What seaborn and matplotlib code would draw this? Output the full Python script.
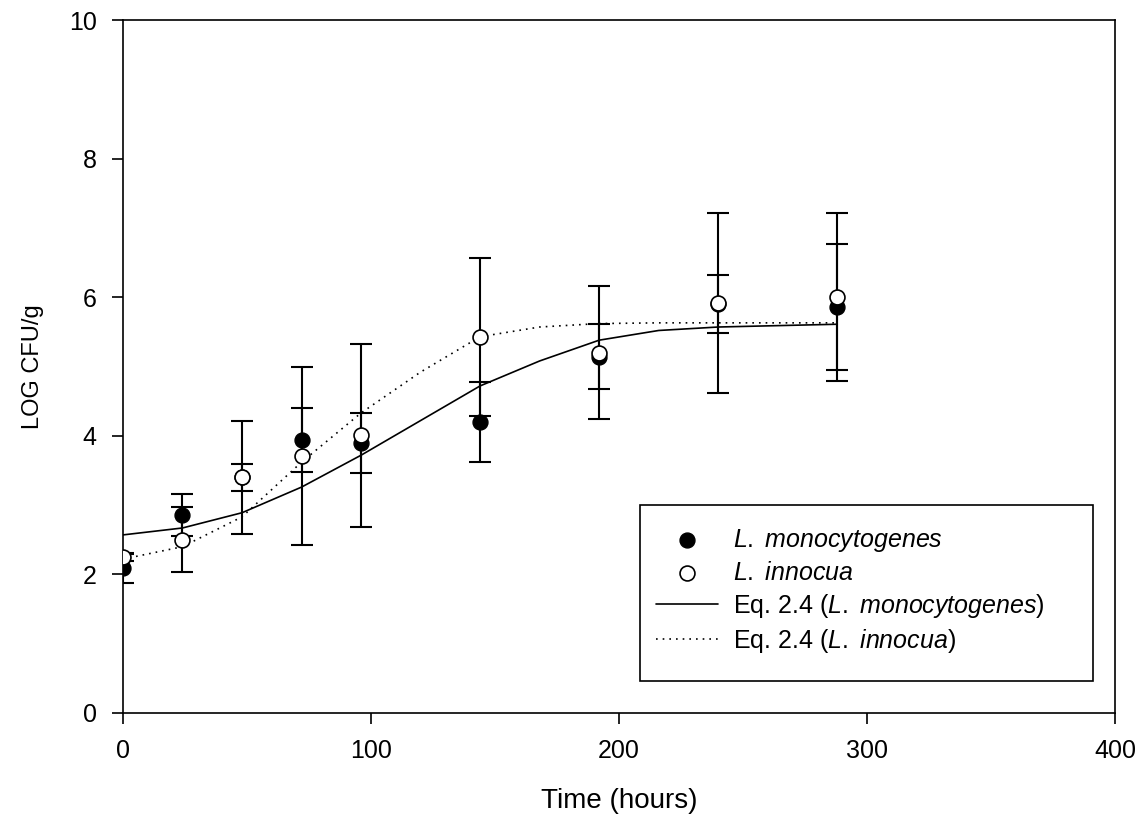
import numpy as np
import pandas as pd
import matplotlib
matplotlib.use('Agg')
import matplotlib.pyplot as plt
from matplotlib.patches import Rectangle
import seaborn as sns

sns.set_style('ticks')
plt.rcParams['font.family'] = ['Liberation Sans', 'DejaVu Sans']
plt.rcParams['mathtext.fontset'] = 'custom'
plt.rcParams['mathtext.rm'] = 'Liberation Sans'
plt.rcParams['mathtext.it'] = 'Liberation Sans:italic'
plt.rcParams['text.color'] = 'black'
plt.rcParams['axes.labelcolor'] = 'black'

# observed data
hours = [0, 24, 48, 72, 96, 144, 192, 240, 288]
mono_mean = [2.09, 2.86, 3.40, 3.94, 3.90, 4.20, 5.14, 5.90, 5.86]
mono_err = [0.21, 0.30, 0.19, 0.46, 0.43, 0.58, 0.47, 0.42, 0.91]
inno_mean = [2.25, 2.50, 3.40, 3.71, 4.01, 5.43, 5.20, 5.92, 6.00]
inno_err = [0.06, 0.47, 0.82, 1.29, 1.32, 1.14, 0.96, 1.30, 1.21]

# fitted curves
fit_hours = [0, 24, 48, 72, 96, 120, 144, 168, 192, 216, 240, 264, 288]
mono_fit = [2.57, 2.67, 2.89, 3.26, 3.72, 4.22, 4.72, 5.08, 5.38, 5.52, 5.57, 5.59, 5.61]
inno_fit = [2.22, 2.40, 2.83, 3.62, 4.33, 4.92, 5.43, 5.57, 5.62, 5.63, 5.63, 5.63, 5.63]

obs = pd.DataFrame({'hours': hours, 'mono': mono_mean, 'inno': inno_mean})
fit = pd.DataFrame({'hours': fit_hours, 'mono': mono_fit, 'inno': inno_fit})

fig = plt.figure(figsize=(11.45, 8.31), dpi=100)
ax = fig.add_axes([0.1074, 0.142, 0.8664, 0.8339])

sns.lineplot(data=fit, x='hours', y='mono', color='black', lw=1.2, ax=ax,
             label='fit_mono', zorder=2)
sns.lineplot(data=fit, x='hours', y='inno', color='black', lw=1.2, ls=(0, (1, 3)), ax=ax,
             label='fit_inno', zorder=2)

ax.errorbar(hours, mono_mean, yerr=mono_err, fmt='none', ecolor='black',
            elinewidth=1.5, capsize=8, capthick=1.5, zorder=3)
ax.errorbar(hours, inno_mean, yerr=inno_err, fmt='none', ecolor='black',
            elinewidth=1.5, capsize=8, capthick=1.5, zorder=3)

sns.scatterplot(data=obs, x='hours', y='mono', color='black', edgecolor='black',
                s=115, linewidth=1, ax=ax, label='mono', zorder=4)
sns.scatterplot(data=obs, x='hours', y='inno', color='white', edgecolor='black',
                s=115, linewidth=1.2, ax=ax, label='inno', zorder=5)

ax.set_xlim(0, 400)
ax.set_ylim(0, 10)
ax.set_xticks([0, 100, 200, 300, 400])
ax.set_yticks([0, 2, 4, 6, 8, 10])
ax.tick_params(direction='out', length=8, width=1.2, pad=11, labelsize=18, colors='black')
for s in ax.spines.values():
    s.set_linewidth(1.2)
    s.set_color('black')
ax.set_xlabel('Time (hours)', fontsize=20, labelpad=18)
ax.set_ylabel('LOG CFU/g', fontsize=17, labelpad=18)

handles, labels = ax.get_legend_handles_labels()
order = [2, 3, 0, 1]
handles = [handles[i] for i in order]
labels = ['$\\it{L.\\ monocytogenes}$', '$\\it{L.\\ innocua}$',
          'Eq. 2.4 ($\\it{L.\\ monocytogenes}$)', 'Eq. 2.4 ($\\it{L.\\ innocua}$)']
leg = ax.legend(handles, labels, loc='center left', bbox_to_anchor=(0.537, 0.176),
                fontsize=18, frameon=False, borderpad=0, labelspacing=0.28,
                handlelength=2.5, handletextpad=0.6, borderaxespad=0)
ax.add_patch(Rectangle((0.521, 0.046), 0.457, 0.254, transform=ax.transAxes,
                       fill=False, edgecolor='black', lw=1.2, zorder=6))

fig.savefig('out.png', dpi=100)
